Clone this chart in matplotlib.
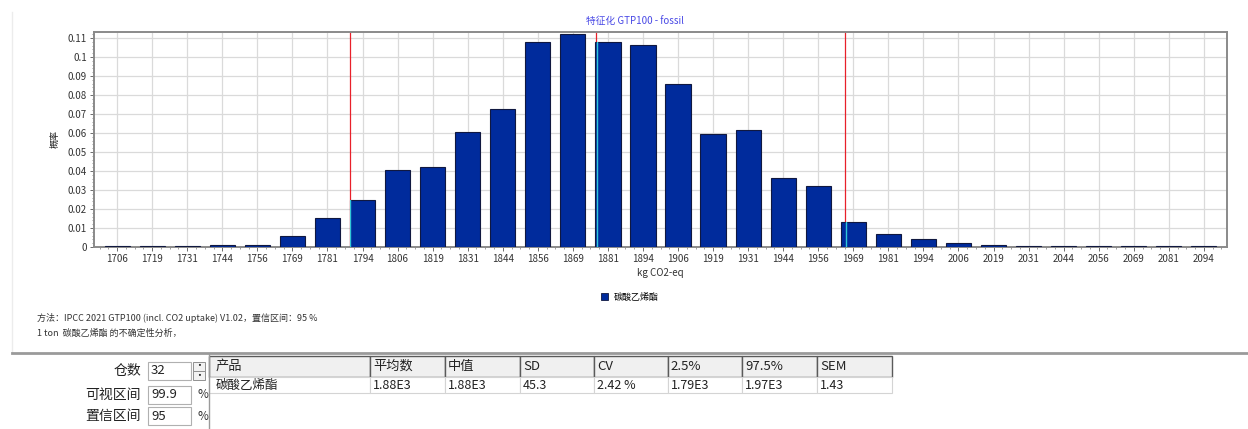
import numpy as np
import matplotlib
matplotlib.use("Agg")
import matplotlib.pyplot as plt
from matplotlib.patches import Rectangle
from matplotlib.lines import Line2D
from matplotlib.ticker import FixedLocator, AutoMinorLocator, FuncFormatter

plt.rcParams['font.family'] = ['Noto Sans CJK SC', 'DejaVu Sans']

# histogram bins (kg CO2-eq) and probabilities
bin_labels = ['1706', '1719', '1731', '1744', '1756', '1769', '1781', '1794',
              '1806', '1819', '1831', '1844', '1856', '1869', '1881', '1894',
              '1906', '1919', '1931', '1944', '1956', '1969', '1981', '1994',
              '2006', '2019', '2031', '2044', '2056', '2069', '2081', '2094']
probs = [0.0003, 0.0003, 0.0003, 0.0011, 0.0011, 0.0057, 0.0152, 0.0250,
         0.0408, 0.0420, 0.0604, 0.0729, 0.1077, 0.1119, 0.1077, 0.1061,
         0.0858, 0.0593, 0.0618, 0.0362, 0.0319, 0.0132, 0.0069, 0.0044,
         0.0023, 0.0012, 0.0003, 0.0003, 0.0003, 0.0003, 0.0003, 0.0003]
series_name = '碳酸乙烯酯'

# confidence interval markers (2.5 %, median, 97.5 %)
ci_lines = [1789, 1877, 1966]

# result table
table_cols = ['产品', '平均数', '中值', 'SD', 'CV', '2.5%', '97.5%', 'SEM']
table_row = ['碳酸乙烯酯', '1.88E3', '1.88E3', '45.3', '2.42 %', '1.79E3', '1.97E3', '1.43']
col_px = [161, 75, 75, 74, 74, 74, 75, 75]

# option fields
opt_labels = ['仓数', '可视区间', '置信区间']
opt_values = ['32', '99.9', '95']

W, H = 1248, 429
fig = plt.figure(figsize=(W / 100, H / 100), dpi=100)


def fx(px):
    return px / W


def fy(py):
    return 1 - py / H


ax = fig.add_axes([fx(94), fy(247), fx(1227 - 94), (247 - 32) / H])

x = np.arange(len(probs))
bin_w = (int(bin_labels[-1]) - int(bin_labels[0])) / (len(bin_labels) - 1)
bar_blue = '#002b9c'
bar_colors = [bar_blue if p > 0.0005 else '#5a6cc8' for p in probs]
bars = ax.bar(x, probs, width=0.72, color=bar_colors, edgecolor='#101840',
              linewidth=0.8, zorder=3)

ax.set_xlim(-0.66, len(probs) - 1 + 0.66)
ax.set_ylim(0, 0.1132)

# red interval lines, shown cyan where they cross a bar
for v in ci_lines:
    xi = (v - int(bin_labels[0])) / bin_w
    ax.axvline(xi, color='#e8202a', lw=0.9, zorder=2)
    for b in bars:
        if b.get_x() - 0.02 <= xi <= b.get_x() + b.get_width():
            ln = Line2D([xi + 0.02, xi + 0.02], [0, 1], color='#30c8d8', lw=1.0,
                        zorder=4, transform=ax.get_xaxis_transform())
            ax.add_line(ln)
            ln.set_clip_path(b)

ax.set_xticks(x)
ax.set_xticklabels(bin_labels)
ax.xaxis.set_minor_locator(FixedLocator(np.arange(-0.5, len(probs), 0.25)))
ax.yaxis.set_major_locator(FixedLocator(np.arange(0, 0.111, 0.01)))
ax.yaxis.set_major_formatter(FuncFormatter(lambda v, p: f"{round(v, 2):g}"))
ax.yaxis.set_minor_locator(AutoMinorLocator(5))
ax.tick_params(axis='both', which='major', labelsize=7, colors='#555555',
               labelcolor='#333333', length=3, width=0.6, pad=2)
ax.tick_params(axis='both', which='minor', length=1.5, width=0.5, colors='#777777')

ax.grid(True, which='major', color='#dadada', lw=0.9, zorder=0)
ax.set_axisbelow(True)
for s in ax.spines.values():
    s.set_color('#8a8a8a')
    s.set_linewidth(1.4)

ax.set_title('特征化 GTP100 - fossil', fontsize=7, color='#4a4ae6', pad=6,
             x=(635 - 94) / (1227 - 94))
ax.set_xlabel('kg CO2-eq', fontsize=7, color='#333333', labelpad=3)
ax.set_ylabel('概率', fontsize=6.5, color='#222222', labelpad=6)

legend_patch = Rectangle((0, 0), 1, 1, facecolor=bar_blue, edgecolor='#101840', lw=0.6)
fig.legend(handles=[legend_patch], labels=[series_name], loc='center',
           bbox_to_anchor=(fx(630), fy(297)), frameon=False, fontsize=6.5,
           handlelength=0.8, handleheight=0.8, handletextpad=0.6)

fig.text(fx(37), fy(318), '方法：IPCC 2021 GTP100 (incl. CO2 uptake) V1.02，置信区间：95 %',
         fontsize=6.5, color='#333333', va='center')
fig.text(fx(37), fy(333), '1 ton  碳酸乙烯酯 的不确定性分析，',
         fontsize=6.5, color='#333333', va='center')

# panel borders
fig.add_artist(Line2D([fx(12), fx(12)], [fy(12), fy(352)], color='#ececec', lw=1))
fig.add_artist(Line2D([fx(12), 1], [fy(353), fy(353)], color='#9a9a9a', lw=2))
fig.add_artist(Line2D([fx(209), fx(209)], [fy(354), 0], color='#9a9a9a', lw=1))

# option fields
rows_y = [371, 395, 416]
for lab, val, ry in zip(opt_labels, opt_values, rows_y):
    fig.text(fx(141), fy(ry), lab, fontsize=10, color='#222222', ha='right', va='center')
    fig.add_artist(Rectangle((fx(148), fy(ry + 9)), fx(43), 18 / H, transform=fig.transFigure,
                             facecolor='white', edgecolor='#b0b0b0', lw=0.8))
    fig.text(fx(151), fy(ry), val, fontsize=9.5, color='#222222', va='center')
for ry in rows_y[1:]:
    fig.text(fx(198), fy(ry), '%', fontsize=8.5, color='#333333', va='center')
for top in [362, 371]:
    fig.add_artist(Rectangle((fx(193), fy(top + 9)), fx(12), 9 / H, transform=fig.transFigure,
                             facecolor='#f2f2f2', edgecolor='#909090', lw=0.7))
    fig.text(fx(199), fy(top + 4.5), '·', fontsize=7, ha='center', va='center', color='#222222')

# result table
tab_ax = fig.add_axes([fx(209), fy(393), fx(sum(col_px)), (393 - 356) / H])
tab_ax.axis('off')
widths = [c / sum(col_px) for c in col_px]
tbl = tab_ax.table(cellText=[table_row], colLabels=table_cols, colWidths=widths,
                   cellLoc='left', colLoc='left', bbox=[0, 0, 1, 1])
tbl.auto_set_font_size(False)
for (r, c), cell in tbl.get_celld().items():
    cell.PAD = 0.04
    if r == 0:
        cell.set_facecolor('#f0f0f0')
        cell.set_edgecolor('#5a5a5a')
        cell.set_linewidth(1.0)
        cell.get_text().set_fontsize(9.5)
        cell.set_height(0.57)
    else:
        cell.set_facecolor('white')
        cell.set_edgecolor('#d4d4d4')
        cell.set_linewidth(0.8)
        cell.get_text().set_fontsize(9)
        cell.set_height(0.43)
    cell.get_text().set_color('#222222')

fig.savefig('out.png', dpi=100)
